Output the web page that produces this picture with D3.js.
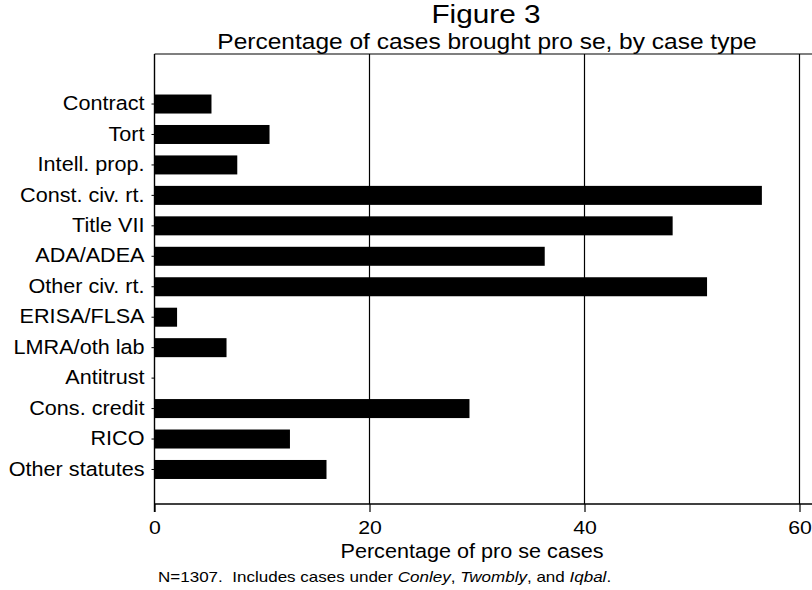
<!DOCTYPE html>
<html>
<head>
<meta charset="utf-8">
<script src="https://cdn.jsdelivr.net/npm/d3@7"></script>
<style>
  html, body { margin: 0; padding: 0; background: #fff; }
  svg { display: block; }
  text { font-family: "Liberation Sans", Arial, Helvetica, sans-serif; fill: #000; }
</style>
</head>
<body>
<svg id="chart" width="812" height="590"></svg>
<script>
const categories = ["Contract", "Tort", "Intell. prop.", "Const. civ. rt.", "Title VII", "ADA/ADEA",
  "Other civ. rt.", "ERISA/FLSA", "LMRA/oth lab", "Antitrust", "Cons. credit", "RICO", "Other statutes"];
const values = [5.3, 10.7, 7.7, 56.5, 48.2, 36.3, 51.4, 2.1, 6.7, 0, 29.3, 12.6, 16.0];
const xTicks = [0, 20, 40, 60];
const titleText = "Figure 3";
const subtitleText = "Percentage of cases brought pro se, by case type";
const xTitleText = "Percentage of pro se cases";

const svg = d3.select("#chart");
const W = 812, H = 590;
const SX = 1.12; // horizontal stretch of the scanned Helvetica
const plotLeft = 154.5, plotTop = 54, plotBottom = 504;

const x = d3.scaleLinear().domain([0, 60]).range([plotLeft, 799.5]);
const y = d3.scaleBand().domain(categories).range([88.8, 484.7]).paddingInner(0.376).paddingOuter(0.188);

function stretchedText(px, py, size, anchor, sx) {
  return svg.append("text")
    .attr("transform", `translate(${px},${py}) scale(${sx || SX},1)`)
    .attr("font-size", size)
    .attr("text-anchor", anchor || "start");
}

// gridlines
svg.append("g").selectAll("line").data(xTicks.filter(d => d > 0)).join("line")
  .attr("x1", d => x(d)).attr("x2", d => x(d))
  .attr("y1", plotTop).attr("y2", plotBottom)
  .attr("stroke", "#000").attr("stroke-width", 1.2);

// frame top
svg.append("line").attr("x1", plotLeft).attr("x2", W).attr("y1", plotTop).attr("y2", plotTop)
  .attr("stroke", "#000").attr("stroke-width", 1.2);

// bars
svg.append("g").selectAll("rect").data(categories).join("rect")
  .attr("x", x(0))
  .attr("y", d => y(d))
  .attr("width", (d, i) => x(values[i]) - x(0))
  .attr("height", y.bandwidth())
  .attr("fill", "#000");

// x axis
const xAxis = svg.append("g").attr("transform", `translate(0,${plotBottom})`)
  .call(d3.axisBottom(x).tickValues(xTicks).tickSize(8).tickPadding(9).tickFormat(d3.format("d")));
xAxis.select(".domain").remove();
xAxis.selectAll(".tick line").attr("stroke", "#000").attr("stroke-width", 1.2);
xAxis.selectAll(".tick text").attr("font-size", 19).attr("font-family", "Liberation Sans, Arial, sans-serif")
  .attr("fill", "#000").attr("transform", `scale(${SX},1)`);
svg.append("line").attr("x1", plotLeft).attr("x2", W).attr("y1", plotBottom).attr("y2", plotBottom)
  .attr("stroke", "#000").attr("stroke-width", 1.4);

// y axis
const yAxis = svg.append("g").attr("transform", `translate(${plotLeft},0)`)
  .call(d3.axisLeft(y).tickSize(3).tickPadding(7));
yAxis.select(".domain").remove();
yAxis.selectAll(".tick line").attr("stroke", "#000").attr("stroke-width", 1);
yAxis.selectAll(".tick text").attr("font-size", 19.3).attr("font-family", "Liberation Sans, Arial, sans-serif")
  .attr("fill", "#000").attr("x", -10 / SX).attr("transform", `scale(${SX},1)`);
svg.append("line").attr("x1", plotLeft).attr("x2", plotLeft).attr("y1", plotTop).attr("y2", plotBottom + 8)
  .attr("stroke", "#000").attr("stroke-width", 1.4);

// titles
stretchedText(486, 23, 25, "middle", 1.19).text(titleText);
stretchedText(487, 48.5, 21.5, "middle", 1.14).text(subtitleText);
stretchedText(472, 558, 19.3, "middle").text(xTitleText);

// footnote
const fn = stretchedText(158, 582, 15.2, "start");
fn.append("tspan").text("N=1307.\u00a0 Includes cases under ");
fn.append("tspan").attr("font-style", "italic").text("Conley");
fn.append("tspan").text(", ");
fn.append("tspan").attr("font-style", "italic").text("Twombly");
fn.append("tspan").text(", and ");
fn.append("tspan").attr("font-style", "italic").text("Iqbal");
fn.append("tspan").text(".");
</script>
</body>
</html>
